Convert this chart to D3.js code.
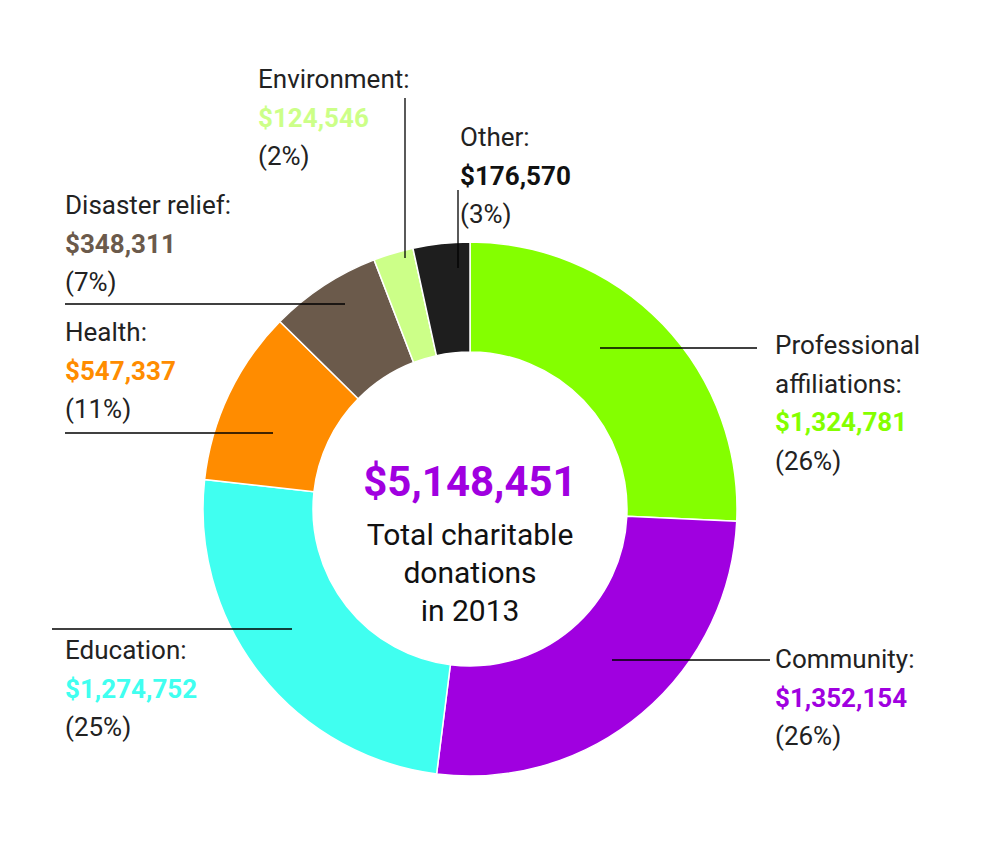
<!DOCTYPE html>
<html><head><meta charset="utf-8">
<script src="https://cdn.jsdelivr.net/npm/d3@7"></script>
<style>body{margin:0;background:#fff}text{font-family:Roboto,"Liberation Sans",sans-serif}</style>
</head><body><div id="chart"></div>
<script>
const categories = ['Professional affiliations', 'Community', 'Education', 'Health', 'Disaster relief', 'Environment', 'Other'];
const values = [1324781, 1352154, 1274752, 547337, 348311, 124546, 176570];
const colors = ['#84ff00', '#a000e0', '#40fff0', '#ff8c00', '#6b5a4b', '#ccff88', '#1e1e1e'];
const valueColors = ['#84ff00', '#a000e0', '#40fff0', '#ff8c00', '#6b5a4b', '#ccff88', '#111'];
const percents = ['26%', '26%', '25%', '11%', '7%', '2%', '3%'];
// label blocks: title lines, x, first baseline y, leader line
const labels = [
  {title: ['Professional', 'affiliations:'], x: 775, y: 354, line: [600, 348, 757, 348]},
  {title: ['Community:'], x: 775, y: 668, line: [612, 660, 770, 660]},
  {title: ['Education:'], x: 65, y: 659, line: [52, 629, 292, 629]},
  {title: ['Health:'], x: 65, y: 341, line: [65, 433, 273, 433]},
  {title: ['Disaster relief:'], x: 65, y: 214, line: [65, 304, 345, 304]},
  {title: ['Environment:'], x: 258, y: 88, line: [405, 98, 405, 258]},
  {title: ['Other:'], x: 460, y: 146, line: [458, 190, 458, 268]}
];

const width = 1003, height = 868, cx = 470, cy = 509;
const svg = d3.select('#chart').append('svg').attr('width', width).attr('height', height);

const pie = d3.pie().sort(null).value(d => d);
const arc = d3.arc().innerRadius(157).outerRadius(267);
const g = svg.append('g').attr('transform', `translate(${cx},${cy})`);
g.selectAll('path').data(pie(values)).join('path')
  .attr('d', arc)
  .attr('fill', (d, i) => colors[i])
  .attr('stroke', '#fff').attr('stroke-width', 1.5);

const fmt = d3.format(',');
const lh = 38.5;
labels.forEach((l, i) => {
  svg.append('line')
    .attr('x1', l.line[0]).attr('y1', l.line[1]).attr('x2', l.line[2]).attr('y2', l.line[3])
    .attr('stroke', '#000').attr('stroke-width', 1.3);
  const t = svg.append('text').attr('x', l.x).attr('y', l.y).attr('font-size', 26).attr('fill', '#222');
  let k = 0;
  l.title.forEach(s => t.append('tspan').attr('x', l.x).attr('dy', k++ ? lh : 0).text(s));
  t.append('tspan').attr('x', l.x).attr('dy', lh).attr('font-weight', 'bold')
    .attr('fill', valueColors[i]).text('$' + fmt(values[i]));
  t.append('tspan').attr('x', l.x).attr('dy', lh).text('(' + percents[i] + ')');
});

svg.append('text').attr('x', cx).attr('y', 496).attr('text-anchor', 'middle')
  .attr('font-size', 42).attr('font-weight', 'bold').attr('fill', '#a000e0')
  .text('$' + fmt(d3.sum(values)));
['Total charitable', 'donations', 'in 2013'].forEach((s, i) => {
  svg.append('text').attr('x', cx).attr('y', 545 + i * 38).attr('text-anchor', 'middle')
    .attr('font-size', 30).attr('fill', '#111').text(s);
});
</script></body></html>
